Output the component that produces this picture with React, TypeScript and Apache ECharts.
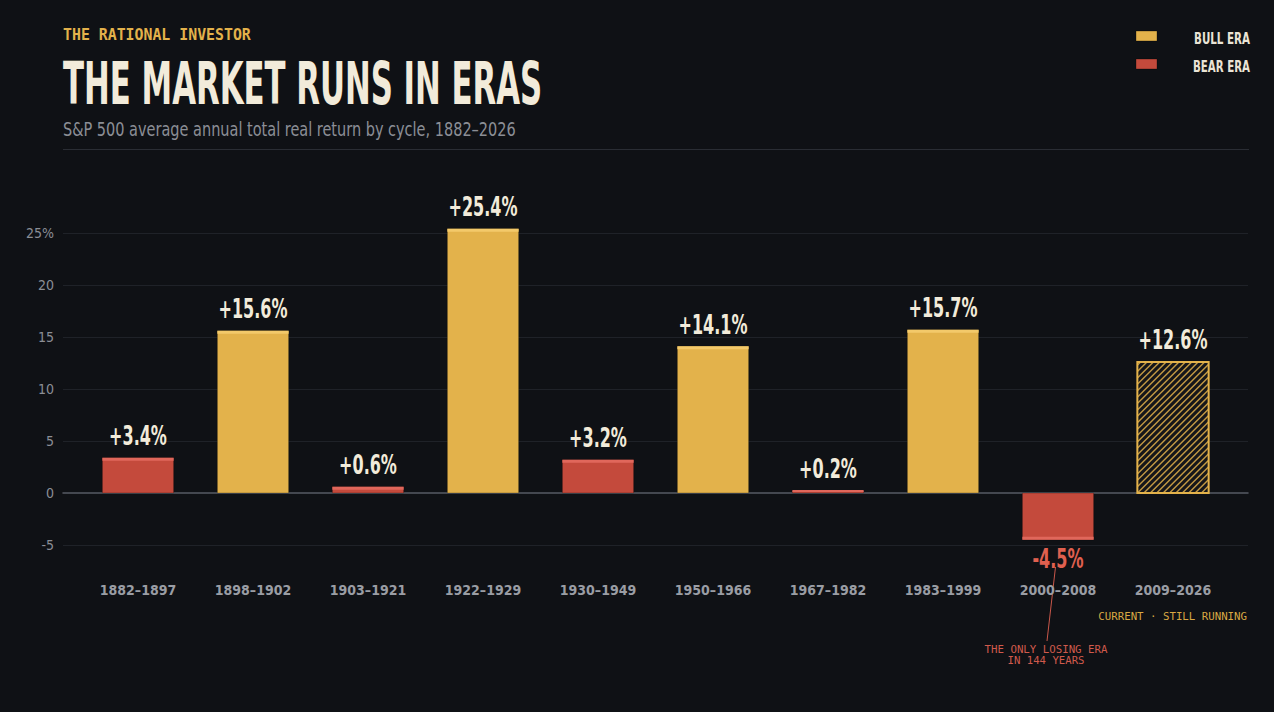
import React, { useEffect, useRef } from 'react';
import * as echarts from 'echarts';

// ---------- data ----------
const CATEGORIES = [
  '1882–1897', '1898–1902', '1903–1921', '1922–1929', '1930–1949',
  '1950–1966', '1967–1982', '1983–1999', '2000–2008', '2009–2026',
];
const RETURNS = [3.4, 15.6, 0.6, 25.4, 3.2, 14.1, 0.2, 15.7, -4.5, 12.6];
const ERA_KIND = ['bear', 'bull', 'bear', 'bull', 'bear', 'bull', 'bear', 'bull', 'bear', 'current'];
const Y_MIN = -10;
const Y_MAX = 30;
const Y_STEP = 5;

// ---------- style ----------
const BG = '#0f1115';
const BULL = '#E3B24B';
const BULL_EDGE = '#F3C96A';
const BEAR = '#C44A3C';
const BEAR_EDGE = '#E0675B';
const NEG_LABEL = '#E0604F';
const CREAM = '#F2EBDA';
const MUTED = '#8b8e95';
const GRID_C = '#1f2228';
const ZERO_C = '#575b64';
const COND = "'DejaVu Sans Condensed', 'Liberation Sans Narrow', 'DejaVu Sans', sans-serif";
const MONO = "'DejaVu Sans Mono', 'Liberation Mono', monospace";

const ctx = document.createElement('canvas').getContext('2d');
function fitScale(text: string, font: string, width: number) {
  if (!ctx) return 1;
  ctx.font = font;
  const w = ctx.measureText(text).width;
  return w > 0 ? width / w : 1;
}

const LABEL_FONT = `bold 26px ${COND}`;
const LABEL_SCALE = fitScale('+15.6%', LABEL_FONT, 69);
const TITLE_FONT = `bold 58px ${COND}`;
const TITLE_TEXT = 'THE MARKET RUNS IN ERAS';
const SUB_FONT = `20px ${COND}`;
const SUB_TEXT = 'S&P 500 average annual total real return by cycle, 1882–2026';
const LEG_FONT = `bold 15px ${COND}`;

function fmt(v: number) {
  return (v > 0 ? '+' : '') + v.toFixed(1) + '%';
}

function renderItem(params: any, api: any) {
  const idx = api.value(0);
  const v = api.value(1);
  const kind = ERA_KIND[idx];
  const base = api.coord([idx, 0]);
  const end = api.coord([idx, v]);
  const bw = api.size([1, 0])[0] * 0.62;
  const x0 = base[0] - bw / 2;
  const x1 = base[0] + bw / 2;
  const yTop = Math.min(base[1], end[1]);
  const yBot = Math.max(base[1], end[1]);
  const h = yBot - yTop;
  const children: any[] = [];
  if (kind === 'current') {
    children.push({
      type: 'rect',
      shape: { x: x0, y: yTop, width: bw, height: h },
      style: { fill: '#15161a', stroke: 'none' },
    });
    const s = 6.4;
    for (let k = x0 + yTop + s / 2; k < x1 + yBot; k += s) {
      const xa = Math.max(x0, k - yBot);
      const xb = Math.min(x1, k - yTop);
      if (xb - xa < 0.5) continue;
      children.push({
        type: 'line',
        shape: { x1: xa, y1: k - xa, x2: xb, y2: k - xb },
        style: { stroke: BULL, lineWidth: 1.4, opacity: 0.85 },
      });
    }
    children.push({
      type: 'rect',
      shape: { x: x0, y: yTop, width: bw, height: h },
      style: { fill: 'none', stroke: BULL, lineWidth: 2 },
    });
  } else {
    const fill = kind === 'bull' ? BULL : BEAR;
    const edge = kind === 'bull' ? BULL_EDGE : BEAR_EDGE;
    children.push({
      type: 'rect',
      shape: { x: x0, y: yTop, width: bw, height: Math.max(h, 1) },
      style: { fill, stroke: 'rgba(0,0,0,0.25)', lineWidth: 1 },
    });
    const eh = Math.min(3, Math.max(h, 2));
    children.push({
      type: 'rect',
      shape: { x: x0, y: v >= 0 ? end[1] - (h < 3 ? 1 : 0) : end[1] - eh, width: bw, height: eh },
      style: { fill: edge },
    });
  }
  if (v >= 0) {
    children.push({
      type: 'text',
      x: base[0],
      y: end[1] - 9,
      scaleX: LABEL_SCALE,
      style: {
        text: fmt(v), fill: CREAM, font: LABEL_FONT,
        align: 'center', verticalAlign: 'bottom', textAlign: 'center', textVerticalAlign: 'bottom',
      },
    });
  } else {
    children.push({
      type: 'text',
      x: base[0],
      y: end[1] + 6,
      scaleX: LABEL_SCALE,
      style: {
        text: fmt(v), fill: NEG_LABEL, font: LABEL_FONT,
        align: 'center', verticalAlign: 'top', textAlign: 'center', textVerticalAlign: 'top',
      },
    });
  }
  return { type: 'group', children };
}

function txt(x: number, y: number, text: string, font: string, fill: string, align = 'left', vAlign = 'middle', scaleX = 1, extra: any = {}) {
  return {
    type: 'text', x, y, scaleX,
    style: { text, font, fill, align, verticalAlign: vAlign, textAlign: align, textVerticalAlign: vAlign, ...extra },
  };
}

function buildOption() {
  const ticks: number[] = [];
  for (let t = Y_MIN; t <= Y_MAX; t += Y_STEP) ticks.push(t);
  const splitColors = ticks.map((t) => (t === Y_MIN || t === Y_MAX || t === 0 ? 'rgba(0,0,0,0)' : GRID_C));

  return {
    animation: false,
    backgroundColor: BG,
    grid: [
      { left: 80.5, right: 43.5, top: 181, height: 390 },
      { left: 63, right: 26, top: 181, height: 416 },
    ],
    xAxis: [
      {
        type: 'category', gridIndex: 0, data: CATEGORIES,
        axisLine: { show: false, onZero: false }, axisTick: { show: false },
        axisLabel: { color: '#9a9da4', fontFamily: COND, fontWeight: 'bold', fontSize: 14, margin: 12 },
        splitLine: { show: false },
      },
      {
        type: 'value', gridIndex: 1, min: 0, max: 1,
        axisLine: { show: true, onZero: true, lineStyle: { color: ZERO_C, width: 1.5 } },
        axisTick: { show: false }, axisLabel: { show: false }, splitLine: { show: false },
      },
    ],
    yAxis: [
      { type: 'value', gridIndex: 0, min: -7.5, max: Y_MAX, show: false, splitLine: { show: false } },
      {
        type: 'value', gridIndex: 1, min: Y_MIN, max: Y_MAX, interval: Y_STEP,
        axisLine: { show: false }, axisTick: { show: false },
        axisLabel: {
          color: MUTED, fontFamily: COND, fontSize: 14, margin: 9,
          formatter: (val: number) => (val === Y_MIN || val === Y_MAX ? '' : val === 25 ? '25%' : String(val)),
        },
        splitLine: { show: true, lineStyle: { color: splitColors, width: 1 } },
      },
    ],
    series: [
      {
        type: 'custom', xAxisIndex: 0, yAxisIndex: 0,
        data: RETURNS.map((v, i) => [i, v]),
        encode: { x: 0, y: 1 },
        renderItem,
        clip: false,
      },
    ],
    graphic: [
      txt(63, 35, 'THE RATIONAL INVESTOR', `bold 15px ${MONO}`, BULL, 'left', 'middle', fitScale('THE RATIONAL INVESTOR', `bold 15px ${MONO}`, 188)),
      txt(63, 84, TITLE_TEXT, TITLE_FONT, CREAM, 'left', 'middle', fitScale(TITLE_TEXT, TITLE_FONT, 479)),
      txt(63, 129, SUB_TEXT, SUB_FONT, MUTED, 'left', 'middle', fitScale(SUB_TEXT, SUB_FONT, 453)),
      { type: 'line', shape: { x1: 63, y1: 149.5, x2: 1249, y2: 149.5 }, style: { stroke: '#2a2d34', lineWidth: 1 } },
      { type: 'rect', shape: { x: 1136, y: 31, width: 21, height: 10 }, style: { fill: BULL, stroke: 'rgba(0,0,0,0.3)', lineWidth: 1 } },
      { type: 'rect', shape: { x: 1136, y: 59, width: 21, height: 10 }, style: { fill: BEAR, stroke: 'rgba(0,0,0,0.3)', lineWidth: 1 } },
      txt(1250, 39, 'BULL ERA', LEG_FONT, '#EAE4D6', 'right', 'middle', fitScale('BULL ERA', LEG_FONT, 56)),
      txt(1250, 67, 'BEAR ERA', LEG_FONT, '#EAE4D6', 'right', 'middle', fitScale('BEAR ERA', LEG_FONT, 57)),
      txt(1247, 616, 'CURRENT · STILL RUNNING', `11px ${MONO}`, '#D9A843', 'right', 'middle', fitScale('CURRENT · STILL RUNNING', `11px ${MONO}`, 149)),
      { type: 'line', shape: { x1: 1055.5, y1: 567, x2: 1047, y2: 641 }, style: { stroke: '#C9574A', lineWidth: 1 } },
      txt(1046, 649, 'THE ONLY LOSING ERA', `11px ${MONO}`, '#D05A4C', 'center', 'middle', fitScale('THE ONLY LOSING ERA', `11px ${MONO}`, 123)),
      txt(1046, 660, 'IN 144 YEARS', `11px ${MONO}`, '#D05A4C', 'center', 'middle', fitScale('IN 144 YEARS', `11px ${MONO}`, 77)),
    ],
  };
}

export default function App() {
  const ref = useRef<HTMLDivElement>(null);
  useEffect(() => {
    if (!ref.current) return;
    document.body.style.margin = '0';
    document.body.style.background = BG;
    const chart = echarts.init(ref.current, null, { renderer: 'svg', width: 1274, height: 712 });
    chart.setOption(buildOption() as any);
    return () => chart.dispose();
  }, []);
  return <div ref={ref} style={{ position: 'fixed', left: 0, top: 0, width: 1274, height: 712 }} />;
}
